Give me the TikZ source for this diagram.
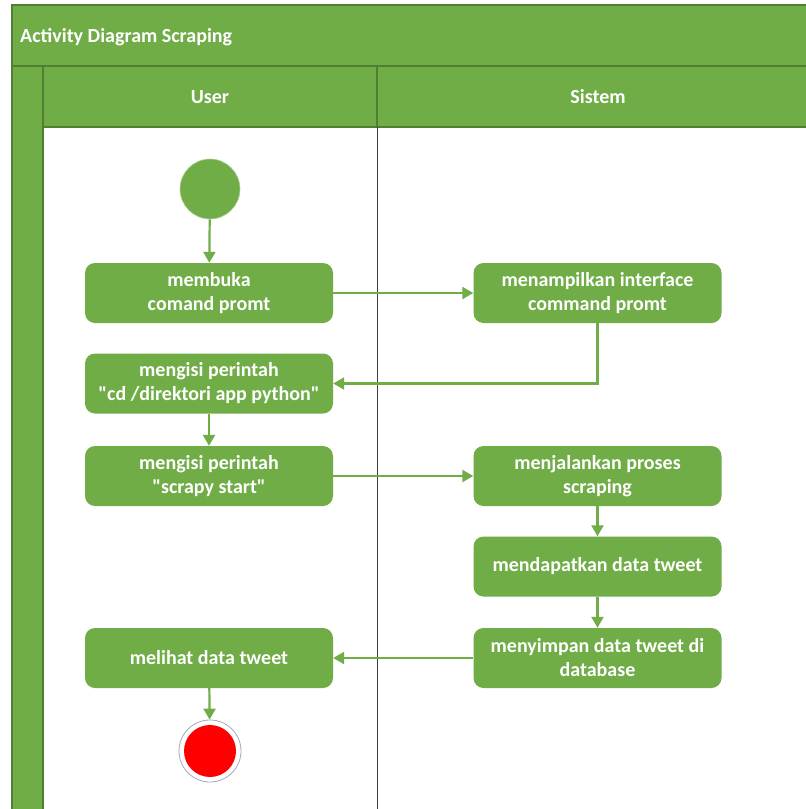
\documentclass[tikz,border=0pt]{standalone}
\usepackage{fontspec}
\setmainfont{Carlito}
\usetikzlibrary{arrows.meta}
\definecolor{lanegreen}{HTML}{70AD47}
\definecolor{laneedge}{HTML}{507E32}
\definecolor{divider}{HTML}{404040}
\definecolor{endring}{HTML}{A8A8B8}
\tikzset{
  lanefill/.style={fill=lanegreen, draw=laneedge, line width=1.2pt},
  actbox/.style={rectangle, rounded corners=10pt, fill=lanegreen, text=white,
    font=\bfseries\fontsize{20}{24}\selectfont, align=center,
    minimum width=248pt, minimum height=60pt, inner sep=0pt},
  headtext/.style={text=white, font=\bfseries\fontsize{20}{24}\selectfont},
  flow/.style={draw=lanegreen, line width=2.2pt,
    -{Triangle[length=11pt,width=12pt]}},
}
\begin{document}
\begin{tikzpicture}[x=1pt,y=-1pt]
\useasboundingbox (0,0) rectangle (806,809);
\clip (0,0) rectangle (806,809);
\fill[white] (0,0) rectangle (806,809);

% swimlane frame
\draw[lanefill] (12,5) rectangle (820,66);
\draw[lanefill] (43,66) rectangle (820,127);
\draw[lanefill] (12,66) rectangle (43,820);
\draw[laneedge, line width=1.2pt] (377,66) -- (377,127);
\draw[divider, line width=0.9pt] (377,127) -- (377,820);

\node[headtext, anchor=west, inner sep=0pt] (title) at (20,37) {Activity Diagram Scraping};
\node[headtext] (userlane) at (210,97) {User};
\node[headtext] (syslane) at (598,97) {Sistem};

% start and activities
\node[circle, fill=lanegreen, draw=lanegreen!55!white, line width=0.6pt,
  minimum size=60pt, inner sep=0pt] (start) at (210,189) {};
\node[actbox] (b1) at (209,293) {membuka\\comand promt};
\node[actbox] (b2) at (597.5,293) {menampilkan interface\\command promt};
\node[actbox] (b3) at (209,383.5) {mengisi perintah\\\textquotedbl cd /direktori app python\textquotedbl};
\node[actbox] (b4) at (209,476) {mengisi perintah\\\textquotedbl scrapy start\textquotedbl};
\node[actbox] (b5) at (597.5,476) {menjalankan proses\\scraping};
\node[actbox] (b6) at (597.5,566.5) {mendapatkan data tweet};
\node[actbox] (b7) at (597.5,658) {menyimpan data tweet di\\database};
\node[actbox] (b8) at (209,658) {melihat data tweet};

% final node
\node[circle, fill=white, draw=endring, line width=0.8pt,
  minimum size=62pt, inner sep=0pt] (stop) at (210,751) {};
\node[circle, fill=red, minimum size=52pt, inner sep=0pt] (stopdot) at (stop) {};

% control flow
\draw[flow] (start) -- (b1);
\draw[flow] (b1) -- (b2);
\draw[flow] (b2.south) |- (b3.east);
\draw[flow] (b3) -- (b4);
\draw[flow] (b4) -- (b5);
\draw[flow] (b5) -- (b6);
\draw[flow] (b6) -- (b7);
\draw[flow] (b7) -- (b8);
\draw[flow] (b8) -- (stop);
\end{tikzpicture}
\end{document}
